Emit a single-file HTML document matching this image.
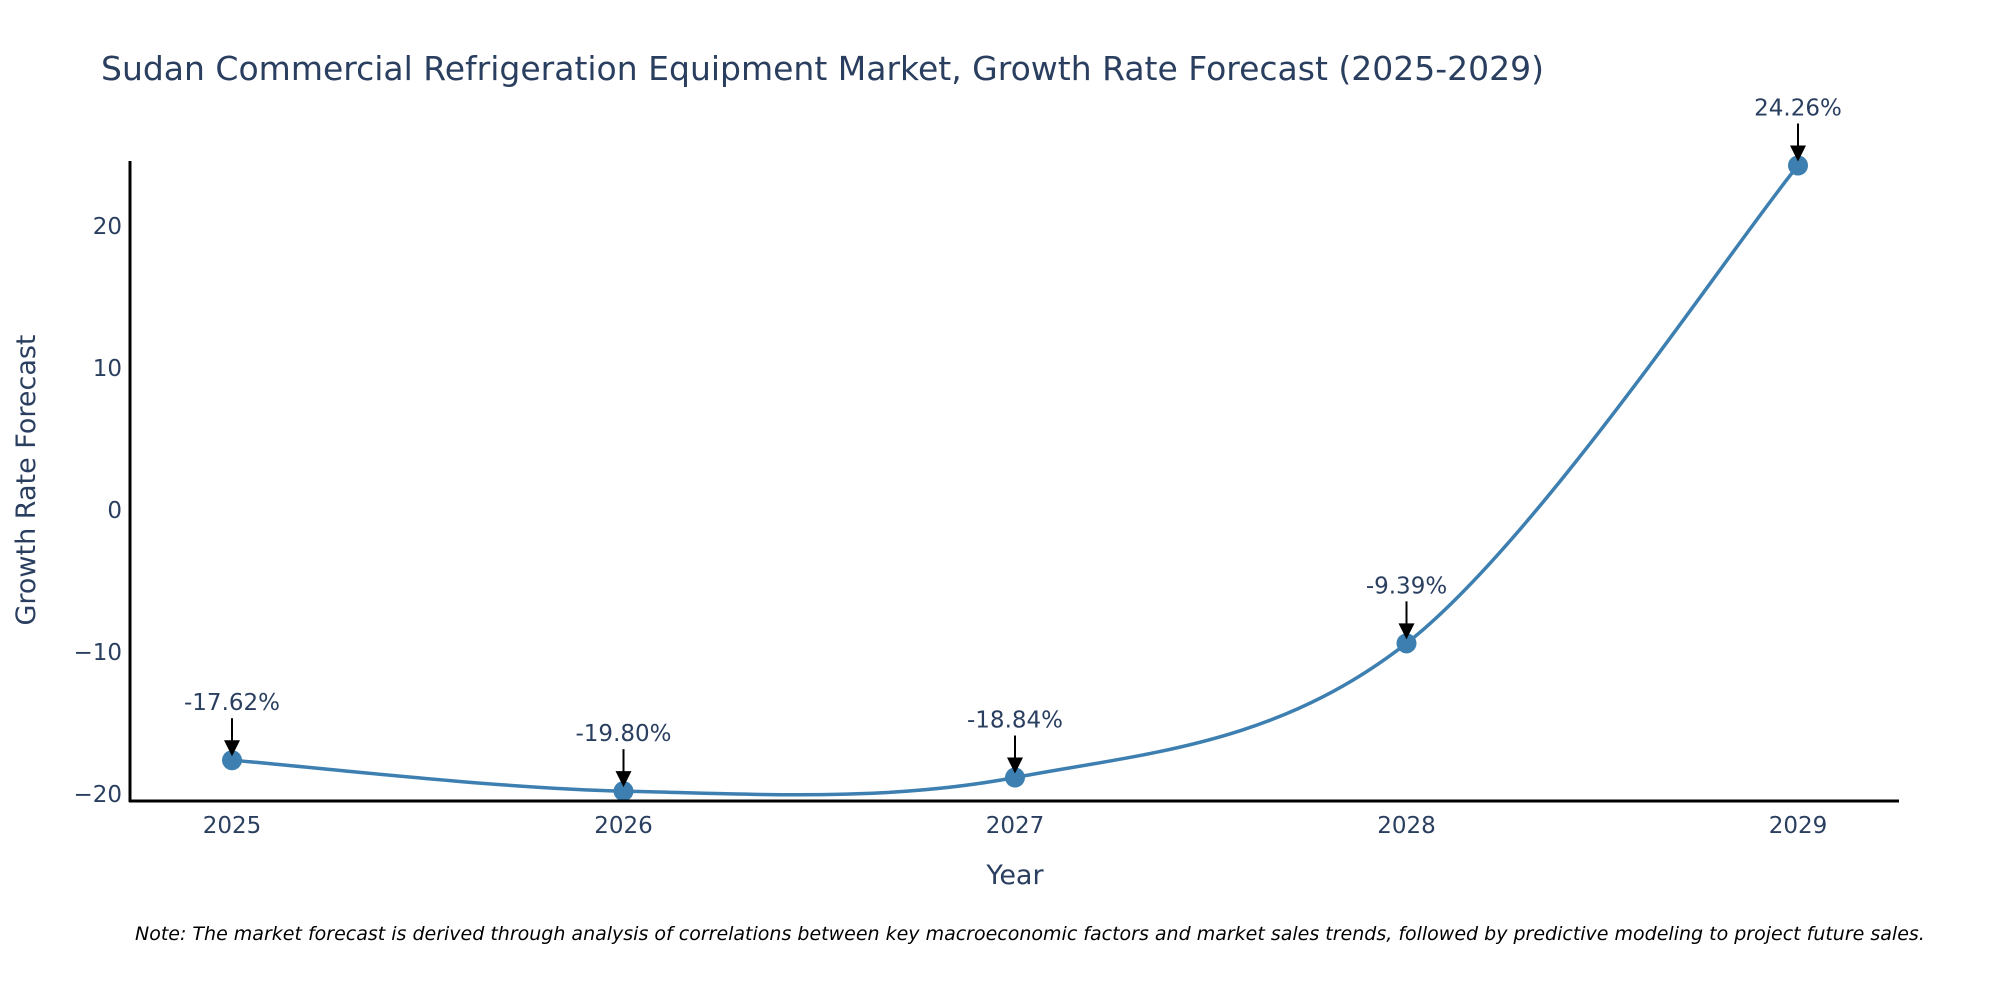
<!DOCTYPE html>
<html><head><meta charset="utf-8"><style>
body{margin:0;background:#fff;}
svg text{font-family:"DejaVu Sans","Liberation Sans",sans-serif;fill:#2a3f5f;}
</style></head><body>
<svg id="chart" width="2000" height="1000" xmlns="http://www.w3.org/2000/svg">
<text x="101" y="80" font-size="33">Sudan Commercial Refrigeration Equipment Market, Growth Rate Forecast (2025-2029)</text>
<g id="yticks"></g>
<g id="xticks"></g>
<g id="plot"></g>
<line x1="130" y1="161" x2="130" y2="802" stroke="#000" stroke-width="3"/>
<line x1="129" y1="801" x2="1899" y2="801" stroke="#000" stroke-width="3"/>
<text x="0" y="0" font-size="27" text-anchor="middle" transform="translate(35,480) rotate(-90)">Growth Rate Forecast</text>
<text x="1015" y="884" font-size="27" text-anchor="middle">Year</text>
<text x="135" y="940" font-size="19" font-style="italic" style="fill:#000">Note: The market forecast is derived through analysis of correlations between key macroeconomic factors and market sales trends, followed by predictive modeling to project future sales.</text>
</svg>
<script>
const years = [2025, 2026, 2027, 2028, 2029];
const growth = [-17.62, -19.80, -18.84, -9.39, 24.26];
const labels = ["-17.62%", "-19.80%", "-18.84%", "-9.39%", "24.26%"];
const yTicks = [-20, -10, 0, 10, 20];
const NS = "http://www.w3.org/2000/svg";
function xs(v){return 232 + (v-2025)*391.5;}
function ys(v){return 510 - v*14.2;}
function mk(tag, attrs, parent){const e=document.createElementNS(NS,tag);for(const k in attrs)e.setAttribute(k,attrs[k]);parent.appendChild(e);return e;}
const yt=document.getElementById('yticks'), xt=document.getElementById('xticks'), plot=document.getElementById('plot');
yTicks.forEach(t=>{
  const e=mk('text',{x:122,y:ys(t)+8,'font-size':23,'text-anchor':'end'},yt);
  
  
  e.textContent=(t<0?'\u2212'+Math.abs(t):String(t));
});
years.forEach(y=>{
  const e=mk('text',{x:xs(y),y:833,'font-size':23,'text-anchor':'middle'},xt);
  
  
  e.textContent=String(y);
});
const P=years.map((y,i)=>[xs(y),ys(growth[i])]);
let d='M'+P[0][0]+','+P[0][1];
for(let i=0;i<P.length-1;i++){
  const p0=P[Math.max(0,i-1)],p1=P[i],p2=P[i+1],p3=P[Math.min(P.length-1,i+2)];
  const t=1/6;
  const c1=[p1[0]+(p2[0]-p0[0])*t,p1[1]+(p2[1]-p0[1])*t];
  const c2=[p2[0]-(p3[0]-p1[0])*t,p2[1]-(p3[1]-p1[1])*t];
  d+=' C'+c1+' '+c2+' '+p2;
}
const line=mk('path',{d:d,fill:'none',stroke:'#3d7fb0','stroke-width':3.5},plot);


P.forEach((p,i)=>{
  const c=mk('circle',{cx:p[0],cy:p[1],r:10,fill:'#3d7fb0'},plot);
  
  
  const a=mk('line',{x1:p[0],y1:p[1]-42,x2:p[0],y2:p[1]-18,stroke:'#000','stroke-width':2},plot);
  
  
  const h=mk('polygon',{points:(p[0]-8)+','+(p[1]-20)+' '+(p[0]+8)+','+(p[1]-20)+' '+p[0]+','+(p[1]-4),fill:'#000'},plot);
  
  
  const tx=mk('text',{x:p[0],y:p[1]-50,'font-size':23,'text-anchor':'middle'},plot);
  
  
  tx.textContent=labels[i];
});
</script>
</body></html>
